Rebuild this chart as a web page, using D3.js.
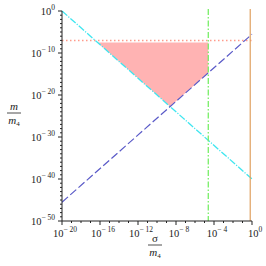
<!DOCTYPE html>
<html>
<head>
<meta charset="utf-8">
<script src="https://cdn.jsdelivr.net/npm/d3@7"></script>
<style>
  body { margin: 0; background: #fff; }
  text { font-family: "Liberation Serif", "DejaVu Serif", serif; fill: #222; }
</style>
</head>
<body>
<svg id="canvas"></svg>
<script>
// tick exponents (labels are 10^e)
const xTickExp = [-20, -16, -12, -8, -4, 0]
const yTickExp = [0, -10, -20, -30, -40, -50]

// lines, as [sigma/m4, m/m4]
const cyanLine = [[1e-20, 1e0], [1e0, 1e-40]]
const blueLine = [[1e-20, 3e-46], [1e0, 3e-6]]
const redLevel = 1e-7
const greenSigma = 2.5e-5
const orangeSigma = 6.5e-1
// shaded region corners
const fillRegion = [[5.6e-17, 3e-8], [2.5e-5, 3e-8], [2.5e-5, 2e-15], [2.4e-9, 1.8e-23]]

let width = 266, height = 266

let svg = d3.select('#canvas')
    .attr('width', width)
    .attr('height', height)

let x = d3.scaleLog().domain([1e-20, 1e0]).range([62, 252])
let y = d3.scaleLog().domain([1e-50, 1e0]).range([221, 11])

let line = d3.line().x(d => x(d[0])).y(d => y(d[1]))

// shaded area
svg.append('path')
    .attr('d', line(fillRegion) + 'Z')
    .attr('fill', '#ffb3b3')

// red dotted level
svg.append('path')
    .attr('d', line([[1e-20, redLevel], [1e0, redLevel]]))
    .attr('stroke', '#ff9a8a')
    .attr('stroke-width', 1.5)
    .attr('stroke-dasharray', '1.5,2.5')
    .attr('fill', 'none')

// cyan
svg.append('path')
    .attr('d', line(cyanLine))
    .attr('stroke', '#3ee6f0')
    .attr('stroke-width', 1.3)
    .attr('stroke-dasharray', '7,1.5,1.2,1.5')
    .attr('fill', 'none')

// blue long dash
svg.append('path')
    .attr('d', line(blueLine))
    .attr('stroke', '#5a5ac8')
    .attr('stroke-width', 1.2)
    .attr('stroke-dasharray', '8,3')
    .attr('fill', 'none')

// green dash-dot vertical
svg.append('path')
    .attr('d', line([[greenSigma, 3e0], [greenSigma, 1e-50]]))
    .attr('stroke', '#77ee66')
    .attr('stroke-width', 1.3)
    .attr('stroke-dasharray', '6,2,1.5,2')
    .attr('fill', 'none')

// orange solid vertical
svg.append('path')
    .attr('d', line([[orangeSigma, 3e0], [orangeSigma, 1e-50]]))
    .attr('stroke', '#e0a060')
    .attr('stroke-width', 1.2)
    .attr('fill', 'none')

// axes
let axes = svg.append('g').attr('stroke', '#222').attr('stroke-width', 1)
axes.append('line').attr('x1', x(1e-20)).attr('x2', x(1e-20)).attr('y1', y(1e0)).attr('y2', y(1e-50))
axes.append('line').attr('x1', x(1e-20)).attr('x2', x(1e0)).attr('y1', y(1e-50)).attr('y2', y(1e-50))

// minor + major ticks
d3.range(-20, 1).forEach(e => {
    let major = xTickExp.includes(e)
    axes.append('line')
        .attr('x1', x(Math.pow(10, e))).attr('x2', x(Math.pow(10, e)))
        .attr('y1', y(1e-50)).attr('y2', y(1e-50) + (major ? 4 : 2))
})
d3.range(-50, 1).forEach(e => {
    let major = yTickExp.includes(e)
    axes.append('line')
        .attr('x1', x(1e-20) - (major ? 4 : 2)).attr('x2', x(1e-20))
        .attr('y1', y(Math.pow(10, e))).attr('y2', y(Math.pow(10, e)))
})

function expText(e) { return e < 0 ? '\u2212 ' + (-e) : '' + e }

// x tick labels
xTickExp.forEach(e => {
    let t = svg.append('text')
        .attr('x', x(Math.pow(10, e)) + 3)
        .attr('y', 237)
        .attr('text-anchor', 'middle')
        .style('font-size', '10.5px')
    t.append('tspan').text('10')
    t.append('tspan').attr('dy', -5).style('font-size', '7.5px').text(expText(e))
})

// y tick labels
yTickExp.forEach(e => {
    let t = svg.append('text')
        .attr('x', 55)
        .attr('y', y(Math.pow(10, e)) + 3.5)
        .attr('text-anchor', 'end')
        .style('font-size', '10.5px')
    t.append('tspan').text('10')
    t.append('tspan').attr('dy', -5).style('font-size', '7.5px').text(expText(e))
})

// axis labels (fractions)
function fraction(cx, cy, top, topItalic) {
    let g = svg.append('g')
    g.append('text').attr('x', cx).attr('y', cy - 3).attr('text-anchor', 'middle')
        .style('font-size', '11px').style('font-style', topItalic ? 'italic' : 'normal').text(top)
    g.append('line').attr('x1', cx - 7).attr('x2', cx + 7).attr('y1', cy).attr('y2', cy)
        .attr('stroke', '#222').attr('stroke-width', 0.8)
    let b = g.append('text').attr('x', cx).attr('y', cy + 10.5).attr('text-anchor', 'middle')
        .style('font-size', '11px').style('font-style', 'italic')
    b.append('tspan').text('m')
    b.append('tspan').attr('dy', 2).style('font-size', '7px').style('font-style', 'normal').text('4')
}
fraction(14, 113, 'm', true)
fraction(155, 245, '\u03c3', false)
</script>
</body>
</html>
